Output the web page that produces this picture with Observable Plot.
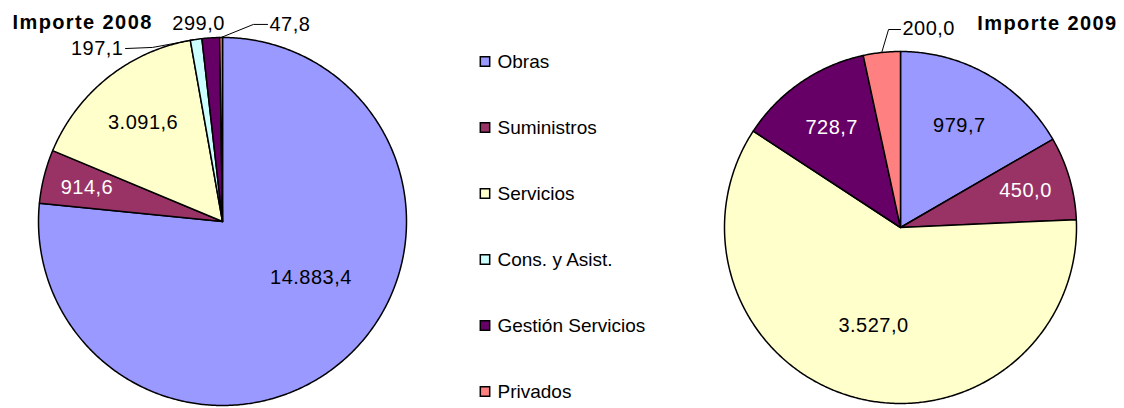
<!DOCTYPE html>
<html><head><meta charset="utf-8">
<script src="https://cdn.jsdelivr.net/npm/d3@7"></script>
<script src="https://cdn.jsdelivr.net/npm/@observablehq/plot@0.6"></script>
<style>
html,body{margin:0;padding:0;background:#fff;}
#wrap{display:flex;width:1124px;height:408px;font-family:"Liberation Sans",Arial,sans-serif;}
#wrap svg{display:block;overflow:visible;}
</style></head><body><div id="wrap"></div>
<script>
// ---------- data ----------
const categories = ["Obras","Suministros","Servicios","Cons. y Asist.","Gestión Servicios","Privados"];
const colors = ["#9999FF","#993366","#FFFFCC","#CCFFFF","#660066","#FF8080"];
const values2008 = [14883.4, 914.6, 3091.6, 197.1, 299.0, 47.8];
const values2009 = [979.7, 450.0, 3527.0, 0, 728.7, 200.0];
const titles = ["Importe 2008","Importe 2009"];
const whiteLabelCats = ["Suministros","Gestión Servicios"];

// ---------- layout (not data) ----------
const H = 408;
const FONT = '"Liberation Sans", Arial, sans-serif';
const layouts = {
  "2008": {width: 440, cx: 222, cy: 221, r: 184, titleAnchor: "top-left", titleDx: 12, titleDy: 14,
    inside: {"Obras": {r: 0.57, a: 122.5}, "Suministros": {r: 0.76}, "Servicios": {r: 0.69}},
    callouts: {
      "Cons. y Asist.": {text: [-0.538, 0.94], anchor: "end", path: [[-0.527, 0.94], [-0.38, 0.946]]},
      "Gestión Servicios": {text: [-0.13, 1.076], anchor: "middle", path: null},
      "Privados": {text: [0.255, 1.071], anchor: "start", path: [[0.245, 1.071], [0.168, 1.071]]}
    }},
  "2009": {width: 440, cx: 216, cy: 227, r: 176, titleAnchor: "top-right", titleDx: -7, titleDy: 15,
    inside: {"Obras": {r: 0.67}, "Suministros": {r: 0.74}, "Servicios": {r: 0.58}, "Gestión Servicios": {r: 0.69}},
    callouts: {
      "Privados": {text: [0.011, 1.13], anchor: "start", path: [[0, 1.125], [-0.068, 1.125]]}
    }}
};

const esLocale = d3.formatLocale({decimal: ",", thousands: ".", grouping: [3], currency: ["", " €"]});
const fmt = esLocale.format(",.1f");

function pieChart(year, values, title) {
  const L = layouts[year];
  const rows = categories.map((c, i) => ({cat: c, value: values[i]})).filter(d => d.value > 0);
  const arcs = d3.pie().sort(null).value(d => d.value).startAngle(0).endAngle(2 * Math.PI)(rows);
  const slicePts = [];
  const inLabels = [];
  const outLabels = [];
  const leaders = [];
  arcs.forEach(a => {
    const cat = a.data.cat;
    slicePts.push({cat, x: 0, y: 0});
    const n = Math.max(2, Math.ceil((a.endAngle - a.startAngle) / (Math.PI / 360)));
    for (let k = 0; k <= n; k++) {
      const t = a.startAngle + (a.endAngle - a.startAngle) * k / n;
      slicePts.push({cat, x: Math.sin(t), y: Math.cos(t)});
    }
    const mid = (a.startAngle + a.endAngle) / 2;
    const ins = L.inside[cat];
    if (ins) {
      const ang = ins.a != null ? ins.a * Math.PI / 180 : mid;
      inLabels.push({cat, x: ins.r * Math.sin(ang), y: ins.r * Math.cos(ang), text: fmt(a.data.value),
        white: whiteLabelCats.includes(cat)});
    }
    const co = L.callouts[cat];
    if (co) {
      outLabels.push({cat, x: co.text[0], y: co.text[1], text: fmt(a.data.value), anchor: co.anchor});
      if (co.path) {
        co.path.forEach(p => leaders.push({cat, x: p[0], y: p[1]}));
        leaders.push({cat, x: Math.sin(mid), y: Math.cos(mid)});
      }
    }
  });

  const svg = Plot.plot({
    width: L.width, height: H, margin: 0,
    x: {domain: [-L.cx / L.r, (L.width - L.cx) / L.r], axis: null},
    y: {domain: [(L.cy - H) / L.r, L.cy / L.r], axis: null},
    color: {domain: categories, range: colors},
    style: {fontFamily: FONT, background: "transparent", overflow: "visible"},
    marks: [
      Plot.line(slicePts, {x: "x", y: "y", z: "cat", fill: "cat", stroke: "black", strokeWidth: 1.5,
        strokeLinejoin: "round", curve: "linear-closed"}),
      Plot.line(leaders, {x: "x", y: "y", z: "cat", stroke: "black", strokeWidth: 1}),
      Plot.text(inLabels.filter(d => !d.white), {x: "x", y: "y", text: "text", fill: "black", fontSize: 20}),
      Plot.text(inLabels.filter(d => d.white), {x: "x", y: "y", text: "text", fill: "white", fontSize: 20}),
      ...["start", "middle", "end"].map(anc => Plot.text(outLabels.filter(d => d.anchor === anc),
        {x: "x", y: "y", text: "text", fill: "black", fontSize: 20, textAnchor: anc})),
      Plot.text([title], {frameAnchor: L.titleAnchor, dx: L.titleDx, dy: L.titleDy, lineAnchor: "top",
        text: d => d, fontSize: 20, fontWeight: "bold", fill: "black"})
    ]
  });
  d3.select(svg).selectAll("text").each(function() {
    const t = this.textContent;
    this.style.letterSpacing = (t === title) ? "1.4px" : "0.5px";
  });
  return svg;
}

function legendChart() {
  return Plot.plot({
    width: 244, height: H, margin: 0,
    y: {type: "point", domain: categories, range: [60, 392], padding: 0, axis: null},
    color: {domain: categories, range: colors},
    style: {fontFamily: FONT, background: "transparent", overflow: "visible"},
    marks: [
      Plot.dot(categories, {y: d => d, frameAnchor: "left", dx: 44.5, symbol: "square", r: 5.3,
        fill: d => d, stroke: "black", strokeWidth: 1.5}),
      Plot.text(categories, {y: d => d, frameAnchor: "left", dx: 57, text: d => d, textAnchor: "start",
        fontSize: 19, fill: "black"})
    ]
  });
}

const wrap = document.getElementById("wrap");
wrap.appendChild(pieChart("2008", values2008, titles[0]));
wrap.appendChild(legendChart());
wrap.appendChild(pieChart("2009", values2009, titles[1]));
</script>
</body></html>
